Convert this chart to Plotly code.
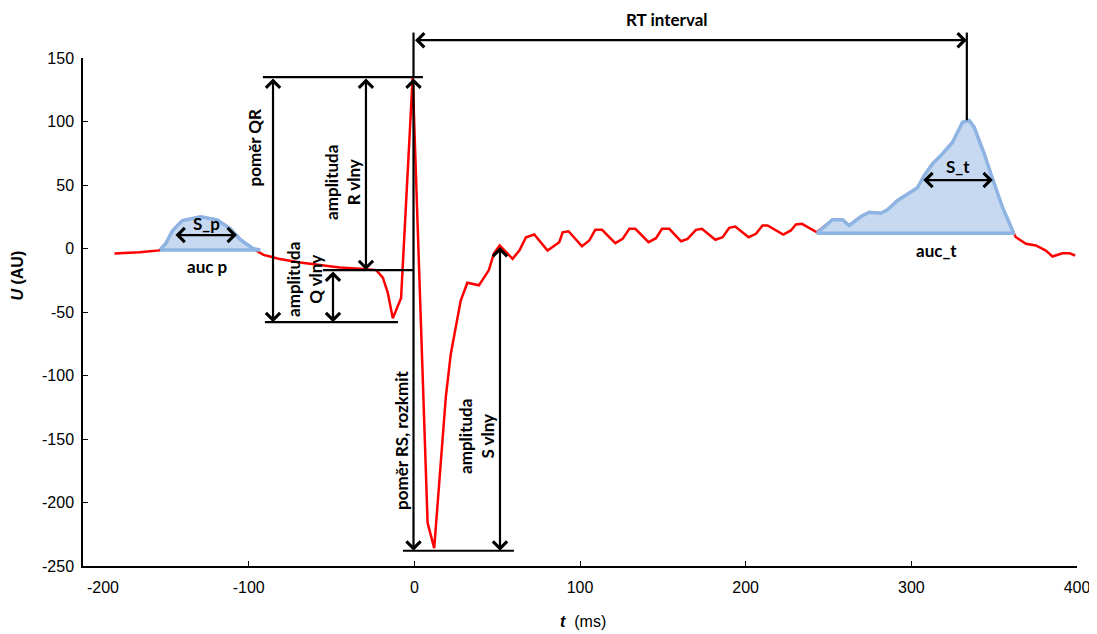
import plotly.graph_objects as go

# ---------------- data ----------------
t_ms = [-181, -166, -154, -150, -146, -140, -129, -119, -111, -105, -97.5, -91,
        -82, -69, -57, -45, -33, -23, -19, -16, -13, -8, -1, 8, 12, 16, 19, 22, 28,
        32, 39, 45, 48, 51.5, 59.3, 63.4, 67.4, 72.4, 80.4, 87.5, 89.5, 93.1, 101.2,
        105.6, 109.2, 113.3, 121.3, 125.7, 129.8, 133.4, 141.4, 145.9, 149.5, 153.9,
        161.0, 164.9, 170.0, 173.6, 181.7, 186.1, 190.1, 193.7, 201.8, 206.2, 210.2,
        213.2, 222.7, 227.3, 230.3, 234.0, 243.0, 252.4, 258.5, 262.5, 269.6, 274.6,
        281.6, 285.6, 291.7, 298.7, 303.7, 307.8, 312.8, 318.8, 324.9, 330.9, 334.9,
        337.9, 344.0, 349.0, 355.0, 361.1, 363.1, 369.2, 375.2, 381.2, 385.2, 391.2,
        395.3, 398.9]
u_au = [-4, -3, -1.5, 4, 14, 22, 25, 22.5, 15.5, 7, 0, -5,
        -8, -11, -13, -15, -16, -17, -23, -35, -55, -39, 135, -216, -236, -166, -117, -83, -41,
        -27, -29, -17, -4, 2.4, -8.1, -1.6, 8.9, 11.0, -1.6, 5.0, 12.8, 13.6, 1.8,
        6.3, 14.7, 14.7, 4.2, 7.6, 15.5, 15.5, 5.0, 8.1, 15.5, 15.5,
        5.7, 7.6, 14.7, 15.5, 6.9, 8.9, 16.3, 17.3, 8.9, 11.6, 18.1,
        18.1, 11.0, 14.2, 18.9, 19.4, 12.8, 22.6, 22.6, 18.1, 25.2, 28.6,
        27.8, 30.5, 37.8, 43.5, 47.8, 57.5, 66.7, 74.6, 83.7, 99.4, 100.8,
        95.5, 74.6, 54.9, 32.5, 14.2, 8.9, 3.7, 2.4, -1.6, -6.3, -3.7,
        -3.7, -5.5]

x_ticks = [-200, -100, 0, 100, 200, 300, 400]
x_ticktext = ["\u00a0" * 9 + "-200", "-100", "0", "100", "200", "300", "400"]
y_ticks = [150, 100, 50, 0, -50, -100, -150, -200, -250]
X_RANGE = [-200, 400]
Y_RANGE = [-250, 150]

# shaded areas (P wave, T wave): window and base level
P_WINDOW = [-153.5, -93.0]
P_BASE = -1.2
T_WINDOW = [243.0, 361.5]
T_BASE = 12.0

# annotation levels (data units)
R_LEVEL = 135
Q_BASE = -17
Q_LEVEL = -58
S_LEVEL = -238
J_POINT = [51.7, 2.4]
T_PEAK = [333.5, 101]
RT_Y = 164
RT_TOP = 170

FONT_LBL = "Lato, 'Open Sans', sans-serif"
FONT_AX = "'Liberation Sans Narrow', 'Liberation Sans', Arial, sans-serif"


def yp(u):
    return (u - Y_RANGE[0]) / (Y_RANGE[1] - Y_RANGE[0])


def area(window, base):
    xs = [window[0]]
    ys = [base]
    for t, u in zip(t_ms, u_au):
        if window[0] < t < window[1]:
            xs.append(t)
            ys.append(u)
    xs.append(window[1])
    ys.append(base)
    xs.append(window[0])
    ys.append(base)
    return xs, ys


fig = go.Figure()
fig.add_trace(go.Scatter(x=t_ms, y=u_au, mode="lines",
                         line=dict(color="#ff0000", width=2.5), hoverinfo="skip"))
for win, base in [(P_WINDOW, P_BASE), (T_WINDOW, T_BASE)]:
    ax_, ay_ = area(win, base)
    fig.add_trace(go.Scatter(x=ax_, y=ay_, mode="lines", fill="toself",
                             fillcolor="#c6d9f0",
                             line=dict(color="#8db4e2", width=3.5),
                             hoverinfo="skip"))

shapes = []


def hline(x0, x1, y):
    shapes.append(dict(type="line", xref="x", yref="y", x0=x0, x1=x1, y0=y, y1=y,
                       line=dict(color="black", width=2.2)))


def vline_paper(x, u0, u1):
    shapes.append(dict(type="line", xref="x", yref="paper", x0=x, x1=x, y0=yp(u0), y1=yp(u1),
                       line=dict(color="black", width=2.2)))


hline(-91.4, 5.2, R_LEVEL)
hline(-55.2, -0.2, Q_BASE)
hline(-90.2, -9.9, Q_LEVEL)
hline(-6.9, 60.1, S_LEVEL)
vline_paper(-0.5, R_LEVEL, RT_TOP)
vline_paper(T_PEAK[0], T_PEAK[1], RT_TOP)

annotations = []
ARROW = dict(text="", showarrow=True, arrowside="end+start",
             arrowhead=4, startarrowhead=4, arrowsize=1.25, startarrowsize=1.25,
             arrowwidth=2.2, arrowcolor="black", standoff=0, startstandoff=0)


def darrow(x0, y0, x1, y1):
    annotations.append(dict(x=x1, y=y1, ax=x0, ay=y0, xref="x", yref="y", axref="x", ayref="y",
                            **ARROW))


darrow(-85.3, R_LEVEL, -85.3, Q_LEVEL)
darrow(-29.2, R_LEVEL, -29.2, Q_BASE)
darrow(-49.1, Q_BASE, -49.1, Q_LEVEL)
darrow(-0.5, R_LEVEL, -0.5, S_LEVEL)
darrow(J_POINT[0], J_POINT[1], J_POINT[0], S_LEVEL)
darrow(-145.1, 10.6, -107.1, 10.6)
darrow(306.3, 53.9, 349.2, 53.9)
# RT interval (above the plot area)
annotations.append(dict(x=T_PEAK[0], y=yp(RT_Y), xref="x", yref="paper",
                        ax=-0.5, axref="x", ay=0, ayref="pixel", **ARROW))


def label(txt, x, y, angle=0, yref="y", size=17):
    annotations.append(dict(x=x, y=y, xref="x", yref=yref, text="<b>" + txt + "</b>",
                            showarrow=False, textangle=angle, xanchor="center", yanchor="middle",
                            font=dict(family=FONT_LBL, size=size, color="black")))


label("RT interval", 152.4, yp(180), yref="paper")
label("poměr QR", -96.2, 79.5, angle=-90)
label("amplituda<br>R vlny", -43.1, 52.4, angle=-90)
label("amplituda<br>Q vlny", -66, -24, angle=-90)
label("poměr RS, rozkmit", -8.1, -150.8, angle=-90)
label("amplituda<br>S vlny", 37.8, -147.6, angle=-90)
label("S_p", -125.2, 19.3)
label("auc p", -124.6, -13.8)
label("S_t", 328.1, 64.2)
label("auc_t", 315.4, -1.2)

# axis titles
annotations.append(dict(x=-0.066, y=-21, xref="paper", yref="y", text="<b><i>U</i> (AU)</b>",
                        textangle=-90, showarrow=False, xanchor="center", yanchor="middle",
                        font=dict(family="'Liberation Sans', Arial, sans-serif", size=16, color="black")))
annotations.append(dict(x=101.7, y=-0.110, xref="x", yref="paper", text="<b><i>t</i></b>  (ms)",
                        showarrow=False, xanchor="center", yanchor="middle",
                        font=dict(family="'Liberation Sans', Arial, sans-serif", size=16, color="black")))

# the page body has an 8px margin: size the figure so the plot area lands where the reference has it
fig.update_layout(
    width=1105, height=626,
    margin=dict(l=75, r=36, t=50, b=68),
    paper_bgcolor="white", plot_bgcolor="white",
    showlegend=False,
    shapes=shapes, annotations=annotations,
    xaxis=dict(range=X_RANGE, tickvals=x_ticks, ticktext=x_ticktext,
               showline=True, linecolor="black", linewidth=1.5, ticks="inside", ticklen=5,
               tickcolor="black", showgrid=False, zeroline=False, automargin=False,
               ticklabeloverflow="allow",
               tickfont=dict(family=FONT_AX, size=16, color="black"), ticklabelstandoff=6),
    yaxis=dict(range=Y_RANGE, tickvals=y_ticks, ticktext=[str(v) for v in y_ticks],
               showline=True, linecolor="black", linewidth=1.5, ticks="inside", ticklen=5,
               tickcolor="black", showgrid=False, zeroline=False, automargin=False,
               tickfont=dict(family=FONT_AX, size=16, color="black"), ticklabelstandoff=4),
)

fig.write_html("out.html")
